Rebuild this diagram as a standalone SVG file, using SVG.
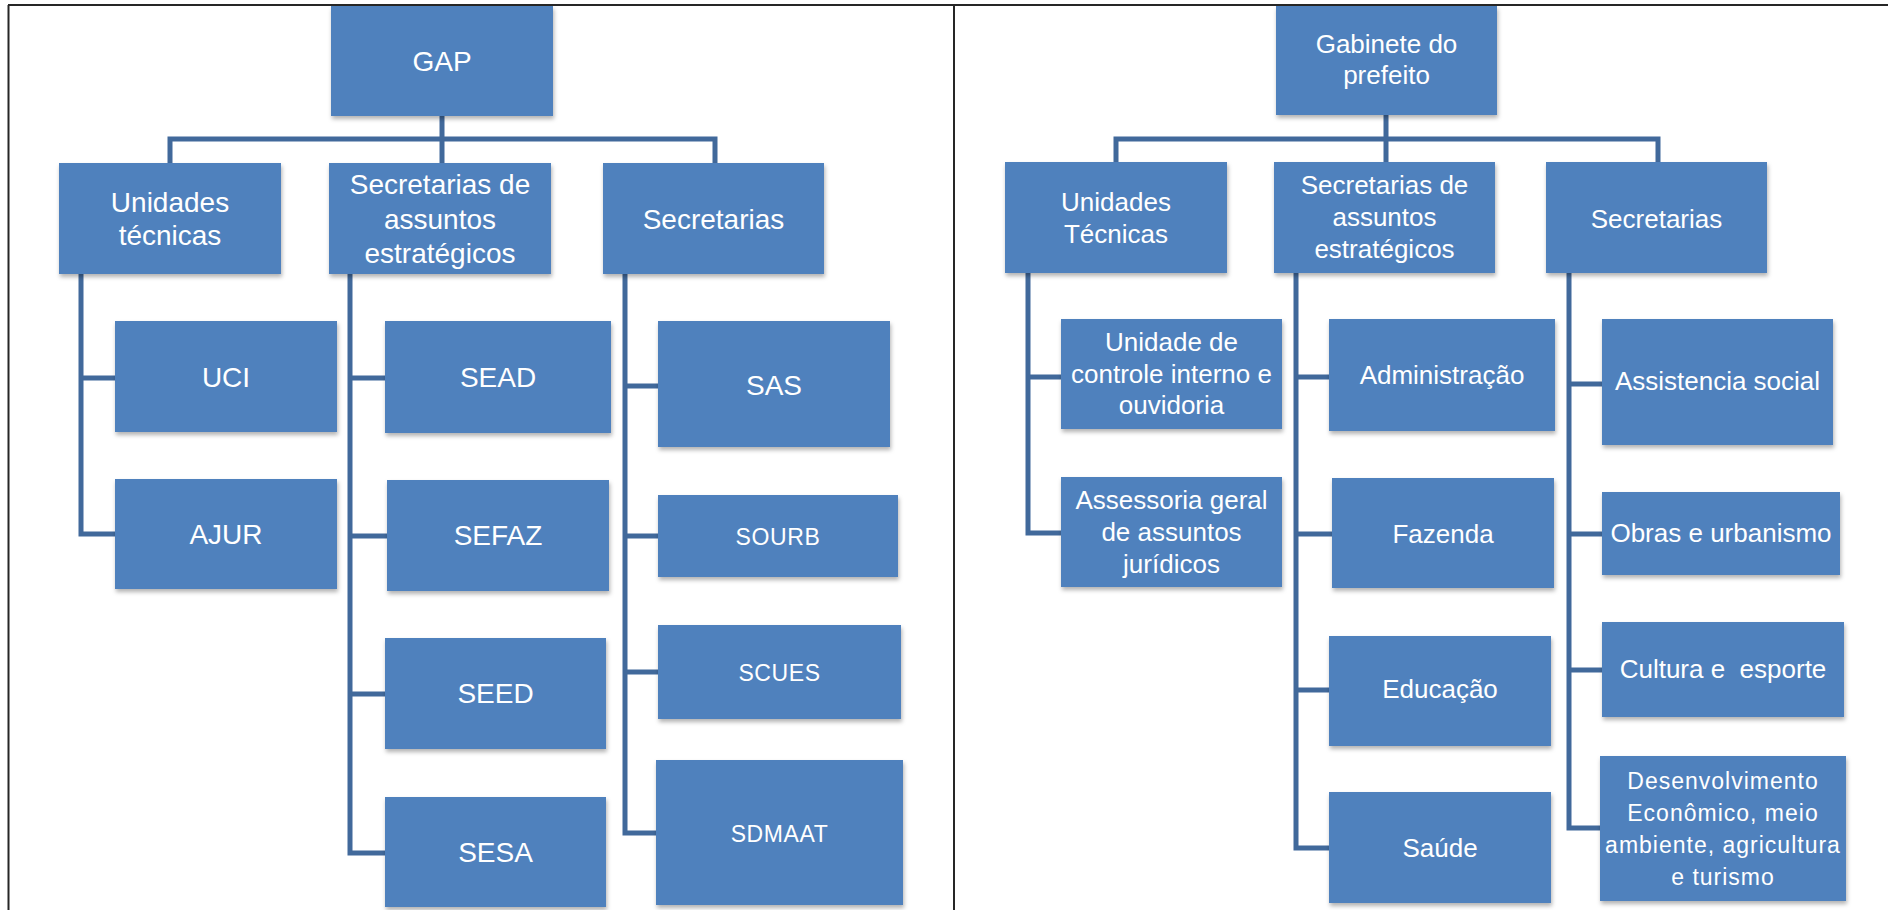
<svg xmlns="http://www.w3.org/2000/svg" width="1888" height="910" viewBox="0 0 1888 910">
<style>
.frame{stroke:#262626;stroke-width:2;fill:none}
.box{fill:#4F81BD;filter:url(#sh)}
.conn path{fill:none;stroke:#41699B;stroke-width:5;stroke-linejoin:miter;stroke-linecap:square}
text{fill:#FFFFFF;font-family:"Liberation Sans",Arial,sans-serif;text-anchor:middle}
.l{font-size:28px}
.r{font-size:26px}
.c{font-size:23px;letter-spacing:0.6px}
.d{font-size:23px;letter-spacing:1px}
</style>
<defs>
<filter id="sh" x="-10%" y="-10%" width="125%" height="130%">
<feDropShadow dx="1" dy="3" stdDeviation="2" flood-color="#000" flood-opacity="0.3"/>
</filter>
</defs>
<rect width="1888" height="910" fill="#FFFFFF"/>
<g id="frame">
<path class="frame" d="M8 5H1888M8.5 5V910M954 5V910"/>
</g>
<g class="conn" id="connectors">
<path d="M442 116V139M170 163V139H715V163M442 139V163"/>
<path d="M81 274V534H115M81 378H115"/>
<path d="M350 274V853H385M350 378H385M350 536H387M350 694H385"/>
<path d="M625 274V833H656M625 386H658M625 536H658M625 672H658"/>
<path d="M1386 115V139M1116 162V139H1658V162M1386 139V162"/>
<path d="M1028 273V533H1061M1028 377H1061"/>
<path d="M1296 273V848H1329M1296 377H1329M1296 534H1332M1296 690H1329"/>
<path d="M1569 273V828H1600M1569 384H1602M1569 534H1602M1569 670H1602"/>
</g>
<g id="gap"><rect class="box" x="331" y="6" width="222" height="110"/><text class="l" x="442" y="71">GAP</text></g>
<g id="unidades-tecnicas-l"><rect class="box" x="59" y="163" width="222" height="111"/><text class="l" x="170" y="212">Unidades<tspan x="170" dy="33">técnicas</tspan></text></g>
<g id="sec-assuntos-l"><rect class="box" x="329" y="163" width="222" height="111"/><text class="l" x="440" y="194">Secretarias de<tspan x="440" dy="34.5">assuntos</tspan><tspan x="440" dy="34.5">estratégicos</tspan></text></g>
<g id="secretarias-l"><rect class="box" x="603" y="163" width="221" height="111"/><text class="l" x="713.5" y="229">Secretarias</text></g>
<g id="uci"><rect class="box" x="115" y="321" width="222" height="111"/><text class="l" x="226" y="387">UCI</text></g>
<g id="ajur"><rect class="box" x="115" y="479" width="222" height="110"/><text class="l" x="226" y="544">AJUR</text></g>
<g id="sead"><rect class="box" x="385" y="321" width="226" height="112"/><text class="l" x="498" y="387">SEAD</text></g>
<g id="sefaz"><rect class="box" x="387" y="480" width="222" height="111"/><text class="l" x="498" y="545">SEFAZ</text></g>
<g id="seed"><rect class="box" x="385" y="638" width="221" height="111"/><text class="l" x="495.5" y="703">SEED</text></g>
<g id="sesa"><rect class="box" x="385" y="797" width="221" height="110"/><text class="l" x="495.5" y="862">SESA</text></g>
<g id="sas"><rect class="box" x="658" y="321" width="232" height="126"/><text class="l" x="774" y="395">SAS</text></g>
<g id="sourb"><rect class="box" x="658" y="495" width="240" height="82"/><text class="c" x="778" y="545">SOURB</text></g>
<g id="scues"><rect class="box" x="658" y="625" width="243" height="94"/><text class="c" x="779.5" y="681">SCUES</text></g>
<g id="sdmaat"><rect class="box" x="656" y="760" width="247" height="145"/><text class="c" x="779.5" y="842">SDMAAT</text></g>
<g id="gabinete"><rect class="box" x="1276" y="6" width="221" height="109"/><text class="r" x="1386.5" y="53">Gabinete do<tspan x="1386.5" dy="31">prefeito</tspan></text></g>
<g id="unidades-tecnicas-r"><rect class="box" x="1005" y="162" width="222" height="111"/><text class="r" x="1116" y="211">Unidades<tspan x="1116" dy="32">Técnicas</tspan></text></g>
<g id="sec-assuntos-r"><rect class="box" x="1274" y="162" width="221" height="111"/><text class="r" x="1384.5" y="194">Secretarias de<tspan x="1384.5" dy="32">assuntos</tspan><tspan x="1384.5" dy="32">estratégicos</tspan></text></g>
<g id="secretarias-r"><rect class="box" x="1546" y="162" width="221" height="111"/><text class="r" x="1656.5" y="228">Secretarias</text></g>
<g id="controle-interno"><rect class="box" x="1061" y="319" width="221" height="110"/><text class="r" x="1171.5" y="351">Unidade de<tspan x="1171.5" dy="32">controle interno e</tspan><tspan x="1171.5" dy="31">ouvidoria</tspan></text></g>
<g id="assessoria"><rect class="box" x="1061" y="477" width="221" height="110"/><text class="r" x="1171.5" y="509">Assessoria geral<tspan x="1171.5" dy="32">de assuntos</tspan><tspan x="1171.5" dy="32">jurídicos</tspan></text></g>
<g id="administracao"><rect class="box" x="1329" y="319" width="226" height="112"/><text class="r" x="1442" y="384">Administração</text></g>
<g id="fazenda"><rect class="box" x="1332" y="478" width="222" height="110"/><text class="r" x="1443" y="543">Fazenda</text></g>
<g id="educacao"><rect class="box" x="1329" y="636" width="222" height="110"/><text class="r" x="1440" y="698">Educação</text></g>
<g id="saude"><rect class="box" x="1329" y="792" width="222" height="111"/><text class="r" x="1440" y="857">Saúde</text></g>
<g id="assistencia"><rect class="box" x="1602" y="319" width="231" height="126"/><text class="r" x="1717.5" y="390">Assistencia social</text></g>
<g id="obras"><rect class="box" x="1602" y="492" width="238" height="83"/><text class="r" x="1721" y="542">Obras e urbanismo</text></g>
<g id="cultura"><rect class="box" x="1602" y="622" width="242" height="95"/><text class="r" x="1723" y="678" style="white-space:pre">Cultura e  esporte</text></g>
<g id="desenvolvimento"><rect class="box" x="1600" y="756" width="246" height="145"/><text class="d" x="1723" y="789">Desenvolvimento<tspan x="1723" dy="32">Econômico, meio</tspan><tspan x="1723" dy="32">ambiente, agricultura</tspan><tspan x="1723" dy="32">e turismo</tspan></text></g>
</svg>
